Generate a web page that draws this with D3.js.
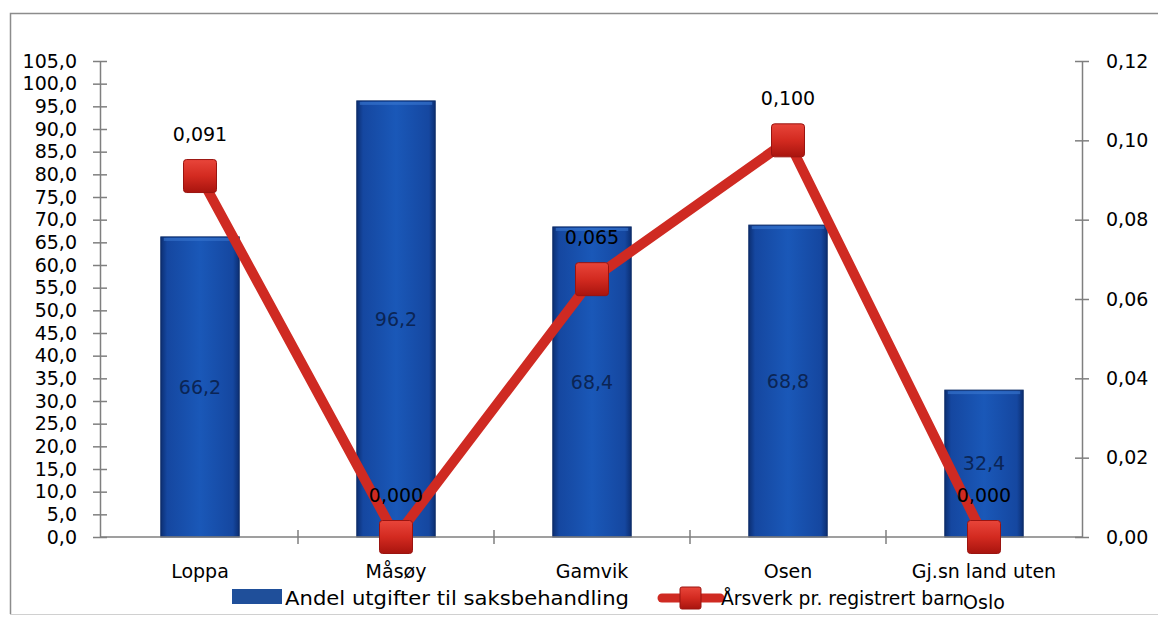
<!DOCTYPE html>
<html><head><meta charset="utf-8">
<script src="https://cdn.jsdelivr.net/npm/d3@7"></script>
<style>body{margin:0;background:#fff}svg{display:block}text{font-family:"DejaVu Sans",sans-serif;fill:#000}</style>
</head><body><svg id="c" width="1158" height="618"></svg>
<script>
const categories = ["Loppa","Måsøy","Gamvik","Osen","Gj.sn land uten Oslo"];
const barValues = [66.2, 96.2, 68.4, 68.8, 32.4];
const lineValues = [0.091, 0.000, 0.065, 0.100, 0.000];
const leftTicks = d3.range(0, 105.1, 5);
const rightTicks = [0, 0.02, 0.04, 0.06, 0.08, 0.10, 0.12];
const barSeriesName = "Andel utgifter til saksbehandling";
const lineSeriesName = "Årsverk pr. registrert barn";

const loc = d3.formatLocale({decimal: ",", thousands: " ", grouping: [3], currency: ["", ""]});
const f1 = loc.format(".1f"), f2 = loc.format(".2f"), f3 = loc.format(".3f");
const FS = "19px";

const svg = d3.select("#c");
const defs = svg.append("defs");
const bg = defs.append("linearGradient").attr("id","barG").attr("x1",0).attr("x2",1).attr("y1",0).attr("y2",0);
[[0,"#0c2f73"],[0.08,"#1547a0"],[0.5,"#1a58b8"],[0.92,"#1547a0"],[1,"#0c2f73"]].forEach(s=>bg.append("stop").attr("offset",s[0]).attr("stop-color",s[1]));
const mg = defs.append("linearGradient").attr("id","mkG").attr("x1",0).attr("x2",0).attr("y1",0).attr("y2",1);
[[0,"#e8453a"],[0.5,"#d32a20"],[1,"#a8140e"]].forEach(s=>mg.append("stop").attr("offset",s[0]).attr("stop-color",s[1]));

// frame
svg.append("path").attr("d","M10.5,614 V13.5 H1158").attr("fill","none").attr("stroke","#8c8c8c").attr("stroke-width",1.5);
svg.append("line").attr("x1",10).attr("x2",1158).attr("y1",614.5).attr("y2",614.5).attr("stroke","#d0d0d0");

const x0 = 100, x1 = 1082, yTop = 61, yBot = 537;
const x = d3.scaleBand().domain(categories).range([x0 + 2, x1]).padding(0);
const yL = d3.scaleLinear().domain([0, 105]).range([yBot, yTop]);
const yR = d3.scaleLinear().domain([0, 0.12]).range([yBot, yTop]);
const barW = x.bandwidth() * 0.4;

// bars
const bars = svg.append("g").selectAll("g").data(categories).join("g");
bars.append("rect").attr("x", d => x(d) + x.bandwidth()/2 - barW/2)
  .attr("y", (d,i) => yL(barValues[i])).attr("width", barW)
  .attr("height", (d,i) => yBot - yL(barValues[i])).attr("fill","url(#barG)").attr("stroke","#0a2a66").attr("stroke-width",1);
bars.append("rect").attr("x", d => x(d) + x.bandwidth()/2 - barW/2 + 3)
  .attr("y", (d,i) => yL(barValues[i]) + 1).attr("width", barW - 6).attr("height", 3).attr("fill","#3a78d0").attr("opacity",0.6);

// axes
const axisColor = "#7f7f7f";
const gL = svg.append("g").attr("transform",`translate(${x0},0)`).call(d3.axisLeft(yL).tickValues(leftTicks).tickFormat(f1).tickSize(0).tickPadding(23));
gL.select(".domain").attr("stroke",axisColor).attr("stroke-width",1.5);
gL.selectAll(".tick line").remove();
gL.selectAll(".tick").append("line").attr("x1",-7).attr("x2",7).attr("stroke",axisColor).attr("stroke-width",1.5);
gL.selectAll("text").style("font-size",FS).attr("fill","#000");

const gR = svg.append("g").attr("transform",`translate(${x1},0)`).call(d3.axisRight(yR).tickValues(rightTicks).tickFormat(f2).tickSize(0).tickPadding(24));
gR.select(".domain").attr("stroke",axisColor).attr("stroke-width",1.5);
gR.selectAll(".tick line").remove();
gR.selectAll(".tick").append("line").attr("x1",-7).attr("x2",7).attr("stroke",axisColor).attr("stroke-width",1.5);
gR.selectAll("text").style("font-size",FS).attr("fill","#000");

const gX = svg.append("g").attr("transform",`translate(0,${yBot})`);
gX.append("line").attr("x1",x0).attr("x2",x1).attr("stroke",axisColor).attr("stroke-width",1.5);
gX.selectAll(".t").data(categories.slice(1)).join("line").attr("class","t")
  .attr("x1", d => x(d)).attr("x2", d => x(d)).attr("y1",-7).attr("y2",7).attr("stroke",axisColor).attr("stroke-width",1.5);
const catText = gX.selectAll(".c").data(categories).join("text").attr("class","c")
  .attr("x", d => x(d) + x.bandwidth()/2).attr("y", 41).attr("text-anchor","middle").style("font-size",FS);
catText.each(function(d){
  const t = d3.select(this);
  if (d === "Gj.sn land uten Oslo") {
    t.append("tspan").attr("x", x(d)+x.bandwidth()/2).text("Gj.sn land uten");
    t.append("tspan").attr("x", x(d)+x.bandwidth()/2).attr("dy", 31).text("Oslo");
  } else t.text(d);
});

// bar labels
svg.append("g").selectAll("text").data(categories).join("text")
  .attr("x", d => x(d) + x.bandwidth()/2).attr("y", (d,i) => (yL(barValues[i]) + yBot)/2)
  .attr("dy","0.35em").attr("text-anchor","middle").style("font-size",FS).style("fill","#0b2555")
  .text((d,i) => f1(barValues[i]));

// line
const pts = categories.map((d,i) => [x(d) + x.bandwidth()/2, yR(lineValues[i])]);
svg.append("path").attr("d", d3.line()(pts)).attr("fill","none").attr("stroke","#cf2a22").attr("stroke-width",10).attr("stroke-linejoin","miter");
const mk = 33;
svg.append("g").selectAll("rect").data(pts).join("rect")
  .attr("x", d => d[0]-mk/2).attr("y", d => d[1]-mk/2).attr("width", mk).attr("height", mk).attr("rx",3)
  .attr("fill","url(#mkG)").attr("stroke","#9a1410").attr("stroke-width",1);
svg.append("g").selectAll("text").data(pts).join("text")
  .attr("x", d => d[0]).attr("y", d => d[1]-42).attr("dy","0.35em").attr("text-anchor","middle").style("font-size",FS)
  .text((d,i) => f3(lineValues[i]));

// legend
const lg = svg.append("g");
lg.append("rect").attr("x",232).attr("y",589).attr("width",50).attr("height",15).attr("fill","#1f4f9a");
lg.append("text").attr("x",285).attr("y",598).attr("dy","0.35em").style("font-size",FS)
  .attr("textLength",344).attr("lengthAdjust","spacingAndGlyphs").text(barSeriesName);
lg.append("line").attr("x1",662).attr("x2",720).attr("y1",598).attr("y2",598).attr("stroke","#cf2a22").attr("stroke-width",9).attr("stroke-linecap","round");
lg.append("rect").attr("x",680).attr("y",587).attr("width",21).attr("height",22).attr("rx",2).attr("fill","url(#mkG)").attr("stroke","#9a1410");
lg.append("text").attr("x",721).attr("y",598).attr("dy","0.35em").style("font-size",FS)
  .attr("textLength",243).attr("lengthAdjust","spacingAndGlyphs").text(lineSeriesName);
</script></body></html>
